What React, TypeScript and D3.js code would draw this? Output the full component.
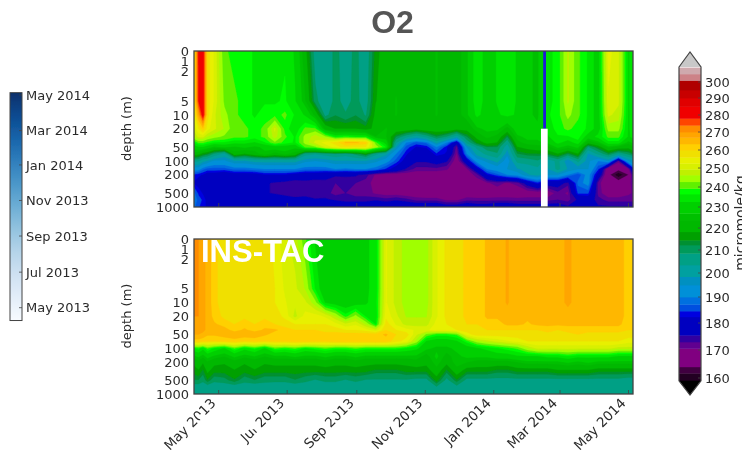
import React, { useEffect, useRef } from "react";
import * as d3 from "d3";

// O2 sections, glider on top and INS-TAC model below, drawn like a contourf

const depths = [0, 5, 10, 20, 30, 40, 50, 70, 100, 150, 200, 300, 500, 700, 1000];
const depthTicks = [0, 1, 2, 5, 10, 20, 50, 100, 200, 500, 1000];
const startDate = new Date(2013, 3, 9);
const endDate = new Date(2014, 4, 5);
// days after startDate for each column of the grids
const columnDays = [0, 4, 8, 12, 18, 27, 36, 45, 54, 63, 72, 81, 90, 99, 108, 117, 126, 135, 144, 153, 162, 171, 180, 189, 198, 207, 216, 225, 234, 243, 252, 261, 270, 279, 288, 297, 306, 315, 324, 333, 342, 351, 360, 369, 378, 387, 396];

// one row per depth, micromole/kg
const topValues = [
  [256, 279, 282, 258, 252, 240, 238, 238, 236, 236, 235, 236, 232, 220, 206, 205, 210, 206, 210, 205, 216, 222, 222, 222, 219, 222, 224, 222, 222, 226, 236, 230, 233, 236, 232, 228, 226, 236, 237, 247, 240, 236, 230, 254, 250, 232, 240],
  [256, 278, 282, 258, 252, 242, 240, 238, 236, 236, 236, 237, 233, 224, 210, 205, 210, 207, 210, 206, 218, 222, 224, 222, 220, 222, 224, 222, 222, 226, 236, 230, 233, 236, 232, 228, 226, 236, 237, 247, 240, 236, 230, 252, 250, 232, 240],
  [254, 268, 282, 258, 250, 244, 240, 238, 236, 238, 238, 240, 236, 232, 222, 207, 212, 209, 212, 208, 220, 222, 224, 222, 222, 222, 224, 222, 222, 226, 234, 230, 232, 234, 232, 228, 226, 236, 238, 244, 240, 236, 230, 250, 248, 232, 238],
  [250, 256, 262, 254, 250, 246, 240, 240, 238, 240, 250, 238, 234, 240, 240, 222, 218, 218, 218, 216, 220, 224, 222, 222, 220, 222, 222, 222, 220, 220, 226, 228, 228, 222, 230, 230, 228, 234, 238, 240, 238, 236, 230, 244, 244, 232, 238],
  [246, 250, 250, 246, 244, 242, 240, 240, 238, 240, 248, 240, 236, 244, 248, 244, 236, 238, 236, 236, 224, 224, 212, 205, 200, 205, 212, 208, 200, 212, 220, 225, 222, 212, 226, 228, 228, 232, 236, 236, 238, 230, 234, 240, 240, 232, 236],
  [236, 240, 240, 238, 236, 236, 234, 234, 232, 236, 242, 238, 236, 244, 250, 254, 258, 264, 264, 262, 240, 230, 204, 190, 186, 188, 200, 190, 178, 205, 215, 220, 218, 205, 222, 226, 226, 228, 234, 230, 235, 220, 225, 235, 235, 225, 232],
  [230, 232, 232, 230, 226, 228, 226, 228, 226, 228, 230, 230, 228, 240, 242, 250, 254, 258, 256, 256, 245, 236, 198, 186, 182, 183, 190, 183, 172, 195, 205, 212, 212, 200, 218, 220, 222, 222, 228, 225, 228, 208, 215, 225, 222, 220, 228],
  [222, 220, 216, 214, 208, 202, 222, 218, 222, 226, 222, 225, 222, 206, 204, 206, 208, 206, 210, 216, 205, 200, 190, 183, 178, 178, 184, 182, 170, 190, 200, 205, 208, 196, 212, 214, 214, 214, 218, 212, 218, 198, 205, 212, 205, 210, 218],
  [205, 204, 200, 198, 194, 194, 198, 198, 200, 200, 200, 200, 200, 196, 195, 196, 198, 198, 198, 198, 196, 192, 186, 180, 176, 176, 178, 176, 168, 180, 192, 196, 200, 192, 205, 206, 208, 200, 205, 195, 205, 196, 190, 195, 172, 195, 200],
  [192, 192, 188, 186, 186, 186, 188, 188, 189, 190, 190, 190, 190, 188, 188, 188, 190, 189, 190, 190, 188, 184, 180, 175, 172, 172, 172, 171, 168, 170, 180, 190, 192, 195, 198, 200, 202, 198, 205, 198, 195, 195, 185, 166, 165, 170, 192],
  [184, 183, 182, 180, 180, 178, 180, 180, 180, 182, 182, 182, 180, 179, 179, 178, 176, 176, 176, 174, 170, 168, 168, 168, 168, 168, 168, 168, 167, 168, 172, 182, 186, 190, 192, 198, 200, 195, 195, 190, 185, 192, 180, 165, 160, 164, 190],
  [182, 181, 180, 179, 178, 178, 178, 178, 177, 176, 175, 174, 173, 174, 173, 174, 173, 174, 173, 172, 169, 168, 168, 168, 168, 168, 168, 167, 167, 167, 168, 170, 172, 170, 172, 178, 184, 178, 178, 174, 188, 192, 172, 166, 166, 168, 180],
  [188, 184, 182, 180, 178, 178, 178, 178, 177, 176, 175, 174, 173, 174, 173, 174, 172, 173, 172, 172, 170, 169, 169, 168, 168, 167, 167, 167, 167, 168, 167, 167, 168, 168, 167, 168, 168, 168, 172, 170, 185, 185, 172, 168, 168, 170, 172],
  [190, 186, 184, 181, 180, 180, 179, 180, 179, 179, 179, 178, 177, 177, 176, 176, 175, 174, 174, 174, 175, 174, 175, 174, 172, 172, 172, 170, 170, 172, 172, 172, 172, 172, 172, 172, 172, 172, 173, 172, 176, 178, 174, 172, 172, 172, 172],
  [188, 185, 183, 182, 182, 181, 181, 181, 181, 180, 180, 180, 180, 180, 180, 180, 180, 180, 180, 180, 180, 180, 180, 180, 180, 180, 180, 178, 178, 180, 178, 178, 180, 180, 178, 178, 178, 178, 178, 176, 176, 178, 176, 176, 176, 176, 176],
];

const bottomValues = [
  [270, 270, 268, 266, 261, 258, 258, 257, 257, 258, 255, 250, 248, 240, 232, 228, 228, 228, 230, 232, 234, 253, 248, 245, 245, 245, 252, 257, 258, 261, 261, 264, 264, 267.5, 264, 265, 265, 265, 265, 268, 265, 265, 265, 265, 265, 262, 264],
  [270, 270, 268, 266, 261, 258, 258, 257, 257, 258, 256, 252, 250, 246, 236, 228, 228, 229, 230, 232, 234, 253, 248, 245, 245, 245, 252, 257, 258, 261, 261, 264, 264, 267.5, 264, 265, 265, 265, 265, 268, 265, 265, 265, 266, 265, 262, 264],
  [270, 270, 268, 266, 261, 258, 258, 257, 257, 258, 256, 253, 250, 250, 244, 232, 230, 229, 230, 232, 235, 253, 248, 245, 245, 245, 252, 257, 258, 261, 261, 264, 264, 267.5, 264, 265, 265, 265, 265, 268, 265, 265, 265, 267, 265, 262, 264],
  [270, 270, 268, 266, 262, 259, 258, 259, 258, 259, 258, 255, 248, 254, 254, 252, 246, 238, 244, 236, 234, 255, 250, 246, 246, 246, 252, 257, 258, 261, 261, 264, 264, 265, 264, 264, 265, 265, 265, 265, 265, 265, 265, 267, 265, 262, 263],
  [268, 268, 268, 266, 264, 262, 260, 262, 260, 262, 260, 258, 256, 256, 256, 256, 254, 250, 252, 246, 236, 258, 252, 248, 248, 248, 254, 256, 258, 260, 260, 262, 262, 264, 264, 263, 264, 264, 264, 264, 264, 264, 264, 264, 264, 262, 262],
  [268, 268, 268, 266, 266, 265, 262, 264, 262, 264, 264, 262, 260, 260, 260, 258, 258, 256, 256, 254, 250, 260, 256, 254, 252, 252, 254, 254, 256, 258, 258, 260, 260, 260, 260, 260, 260, 262, 260, 262, 262, 262, 262, 262, 262, 260, 260],
  [267, 267, 266, 264, 264, 265, 266, 266, 266, 264, 262, 262, 262, 262, 262, 262, 262, 262, 262, 262, 262, 264, 260, 258, 250, 242, 238, 238, 240, 254, 258, 258, 258, 258, 258, 258, 258, 258, 258, 258, 260, 258, 258, 258, 258, 258, 258],
  [262, 262, 261, 260, 260, 261, 262, 260, 261, 260, 261, 261, 262, 262, 261, 261, 262, 262, 262, 262, 262, 262, 258, 254, 245, 232, 230, 230, 232, 238, 245, 248, 250, 252, 254, 256, 256, 256, 256, 256, 256, 256, 256, 256, 256, 254, 254],
  [236, 238, 234, 240, 236, 232, 240, 234, 238, 232, 240, 238, 240, 236, 238, 240, 238, 238, 240, 238, 238, 238, 238, 236, 234, 228, 226, 226, 228, 230, 232, 234, 236, 238, 240, 246, 250, 250, 250, 250, 250, 250, 250, 250, 248, 248, 248],
  [226, 228, 225, 229, 226, 224, 228, 225, 227, 224, 226, 226, 228, 226, 226, 228, 226, 226, 228, 226, 226, 226, 226, 226, 226, 222, 228, 222, 226, 228, 228, 228, 230, 230, 232, 232, 232, 234, 234, 236, 234, 234, 234, 234, 232, 232, 232],
  [220, 222, 219, 223, 220, 219, 222, 219, 221, 219, 220, 220, 220, 220, 220, 222, 220, 220, 222, 220, 220, 220, 220, 220, 222, 220, 226, 220, 226, 224, 222, 222, 222, 222, 224, 226, 226, 226, 226, 228, 226, 228, 226, 226, 226, 226, 226],
  [216, 218, 214, 220, 216, 216, 218, 216, 218, 216, 216, 216, 216, 216, 216, 216, 216, 216, 216, 216, 214, 214, 214, 216, 216, 216, 222, 214, 222, 216, 216, 216, 214, 214, 216, 216, 216, 216, 218, 218, 218, 218, 216, 216, 216, 216, 216],
  [212, 212, 210, 214, 210, 211, 214, 210, 212, 210, 210, 210, 212, 210, 208, 210, 210, 208, 210, 208, 208, 208, 208, 208, 207, 207, 216, 207, 214, 207, 207, 207, 207, 207, 207, 207, 207, 207, 207, 207, 207, 207, 207, 207, 207, 206, 206],
  [206, 206, 205, 206, 205, 205, 206, 206, 205, 206, 205, 205, 205, 205, 205, 204, 204, 204, 204, 204, 205, 205, 205, 205, 205, 205, 208, 205, 207, 205, 205, 205, 205, 205, 205, 205, 205, 205, 205, 205, 205, 205, 205, 205, 205, 205, 205],
  [205, 205, 205, 205, 205, 205, 205, 205, 205, 205, 205, 205, 205, 205, 205, 204, 204, 204, 204, 204, 204, 204, 204, 204, 204, 204, 204, 204, 204, 204, 204, 204, 204, 204, 204, 204, 204, 204, 204, 204, 204, 204, 204, 204, 204, 204, 204],
];

// contour levels and the colour of the band starting at each level
const levels = [159, 161.7, 164, 170.6, 173, 175.5, 182.4, 184.6, 187.2, 190, 195, 198.5, 203.5, 208.6, 212.3, 214.5, 218.3, 223.8, 227, 232.7, 236.5, 239.3, 242.8, 246.3, 249.3, 252.6, 256, 260, 263.4, 267, 270, 274, 278, 285, 290, 295, 301, 305];
const levelColors = ["#200020", "#400040", "#800080", "#600090", "#3000a0", "#0000c0", "#0000e0", "#0050e0", "#0070e0", "#0090d8", "#0090c0", "#00a0a0", "#00a085", "#009a5a", "#009030", "#00a000", "#00b800", "#00c000", "#00d000", "#00e600", "#00ff00", "#60f000", "#a0ff00", "#bff000", "#d8f000", "#e8f000", "#f0e000", "#ffd000", "#ffb700", "#ffa500", "#ff8c00", "#ff4500", "#f00000", "#e00000", "#c80000", "#b00000", "#cd8287", "#cfa9ad"];

const cbarValues = [300, 290, 280, 270, 260, 250, 240, 230, 220, 210, 200, 190, 180, 170, 160];

// glider gap in mid February: blue sliver down to 20 m, empty below
const gapStart = new Date(2014, 1, 12);
const gapEnd = new Date(2014, 1, 18);
const sliverStart = new Date(2014, 1, 14);
const sliverEnd = new Date(2014, 1, 16, 12);
const gapDepth = 20;

const legendTop = new Date(2014, 4, 1);
const legendZero = new Date(2013, 4, 1);

// white specks that the source image left on the date labels: tick index, offset from the tick
const labelNicks = [
  { tick: 0, dx: -16, dy: 23 },
  { tick: 1, dx: -35, dy: 32 },
  { tick: 2, dx: -24, dy: 22 },
];

const font = "'DejaVu Sans', sans-serif";
const textColor = "#2b2b2b";
const frameColor = "#444";

const panelLeft = 194;
const panelRight = 633;

function App() {
  const ref = useRef<SVGSVGElement>(null);

  useEffect(() => {
    const svg = d3.select(ref.current);
    svg.selectAll("*").remove();
    const root = svg.append("g").attr("filter", "url(#soft)");

    const defs = svg.append("defs");
    defs.append("filter").attr("id", "soft")
      .attr("filterUnits", "userSpaceOnUse").attr("x", 0).attr("y", 0).attr("width", 742).attr("height", 450)
      .append("feGaussianBlur").attr("stdDeviation", 0.45);

    const x = d3.scaleTime().domain([startDate, endDate]).range([panelLeft, panelRight]);
    const columnDates = columnDays.map(d => d3.timeDay.offset(startDate, d));
    const color = (i: number) => levelColors[i];

    const panel = (values: number[][], top: number, bottom: number, name: string) => {
      const h = bottom - top;
      const bend = top + (h * 50) / 156;
      const yLin = d3.scaleLinear().domain([0, 5]).range([top, bend]);
      const yLog = d3.scaleLog().domain([5, 1000]).range([bend, bottom]);
      const y = (d: number) => (d <= 5 ? yLin(d) : yLog(d));

      const g = root.append("g");
      defs.append("clipPath").attr("id", "clip" + name).append("rect")
        .attr("x", panelLeft).attr("y", top).attr("width", panelRight - panelLeft).attr("height", h);
      const marks = g.append("g").attr("clip-path", `url(#clip${name})`);
      marks.append("rect").attr("x", panelLeft).attr("y", top).attr("width", panelRight - panelLeft).attr("height", h).attr("fill", "#000");

      // grid index -> pixel, cell centres sit on .5 in d3.contours
      const n = columnDates.length;
      const m = depths.length;
      const ix = d3.scaleLinear()
        .domain([0, ...columnDates.map((_, i) => i + 0.5), n])
        .range([x(columnDates[0]), ...columnDates.map(d => x(d)), x(columnDates[n - 1])]);
      const iy = d3.scaleLinear()
        .domain([0, ...depths.map((_, i) => i + 0.5), m])
        .range([y(depths[0]), ...depths.map(d => y(d)), y(depths[m - 1])]);
      const path = d3.geoPath(d3.geoTransform({
        point(px: number, py: number) { (this as any).stream.point(ix(px), iy(py)); },
      }));

      const contours = d3.contours().size([n, m]).thresholds(levels)(values.flat());
      marks.selectAll("path.band").data(contours).join("path")
        .attr("class", "band")
        .attr("d", d => path(d as any))
        .attr("fill", (_, i) => color(i))
        .attr("stroke", (_, i) => color(i))
        .attr("stroke-width", 0.3);

      return { g, marks, y, top, bottom };
    };

    const top = panel(topValues, 51, 207, "a");
    const bottom = panel(bottomValues, 239, 394, "b");

    // gap in the glider record
    top.marks.append("rect")
      .attr("x", x(sliverStart)).attr("width", x(sliverEnd) - x(sliverStart))
      .attr("y", top.y(0)).attr("height", top.y(gapDepth) - top.y(0))
      .attr("fill", "#1c1cd8");
    top.marks.append("rect")
      .attr("x", x(gapStart)).attr("width", x(gapEnd) - x(gapStart))
      .attr("y", top.y(gapDepth)).attr("height", top.y(1000) - top.y(gapDepth))
      .attr("fill", "#fff");

    // axes and frames
    const months = d3.timeMonth.every(2);
    [top, bottom].forEach((p, k) => {
      const frame = p.g.append("g");
      frame.append("rect").attr("x", panelLeft).attr("y", p.top).attr("width", panelRight - panelLeft).attr("height", p.bottom - p.top)
        .attr("fill", "none").attr("stroke", frameColor).attr("stroke-width", 1.3);

      const ticks = x.ticks(months as any).filter(d => x(d) <= panelRight);
      frame.selectAll("line.tb").data(ticks).join("line").attr("class", "tb")
        .attr("x1", d => x(d)).attr("x2", d => x(d)).attr("y1", p.bottom).attr("y2", p.bottom - 4)
        .attr("stroke", frameColor).attr("stroke-width", 0.8);

      frame.selectAll("text.dy").data(depthTicks).join("text").attr("class", "dy")
        .attr("x", panelLeft - 5).attr("y", d => p.y(d)).attr("dy", "0.36em")
        .attr("text-anchor", "end").attr("font-family", font).attr("font-size", 13).attr("fill", textColor)
        .text(d => d);

      root.append("text")
        .attr("transform", `translate(131,${p.top + (p.bottom - p.top) / 2 - 0.5}) rotate(-90)`)
        .attr("text-anchor", "middle").attr("font-family", font).attr("font-size", 13).attr("fill", textColor)
        .text("depth (m)");

      if (k === 1) {
        frame.selectAll("text.dx").data(ticks).join("text").attr("class", "dx")
          .attr("transform", d => `translate(${x(d) - 2},${p.bottom + 10}) rotate(-45)`)
          .attr("text-anchor", "end").attr("font-family", font).attr("font-size", 13.5).attr("fill", textColor)
          .text(d => d3.timeFormat("%b %Y")(d));
        frame.selectAll("ellipse").data(labelNicks).join("ellipse")
          .attr("cx", d => x(ticks[d.tick]) + d.dx).attr("cy", d => p.bottom + d.dy)
          .attr("rx", 3.5).attr("ry", 3.5).attr("fill", "#fff");
      }
    });

    // overlaid label from the source image
    root.append("text").attr("x", 201).attr("y", 262)
      .attr("font-family", "'Liberation Sans', sans-serif").attr("font-weight", "bold").attr("font-size", 31).attr("fill", "#fff")
      .text("INS-TAC");

    root.append("text").attr("x", 392.5).attr("y", 33).attr("text-anchor", "middle")
      .attr("font-family", "'Liberation Sans', sans-serif").attr("font-weight", "bold").attr("font-size", 32).attr("fill", "#555")
      .text("O2");

    // date legend on the left
    const legendY = d3.scaleTime().domain([legendZero, legendTop]).range([307.7, 95]);
    const grad = defs.append("linearGradient").attr("id", "blues").attr("x1", 0).attr("x2", 0).attr("y1", 1).attr("y2", 0);
    d3.range(0, 1.01, 0.1).forEach(t => grad.append("stop").attr("offset", t).attr("stop-color", d3.interpolateBlues(t)));
    const legend = root.append("g");
    legend.append("rect").attr("x", 10).attr("width", 12).attr("y", legendY(endDate)).attr("height", legendY(startDate) - legendY(endDate))
      .attr("fill", "url(#blues)").attr("stroke", frameColor).attr("stroke-width", 1);
    const legendTicks = legendY.ticks(months as any);
    legend.selectAll("line").data(legendTicks).join("line")
      .attr("x1", 19).attr("x2", 22).attr("y1", d => legendY(d)).attr("y2", d => legendY(d))
      .attr("stroke", frameColor).attr("stroke-width", 0.8);
    legend.selectAll("text").data(legendTicks).join("text")
      .attr("x", 26).attr("y", d => legendY(d)).attr("dy", "0.36em")
      .attr("font-family", font).attr("font-size", 13).attr("fill", textColor)
      .text(d => d3.timeFormat("%b %Y")(d));

    // value colour bar on the right, ticks are not evenly spaced in the original
    const cbarY = d3.scaleLinear().domain(cbarValues)
      .range([82, 98, 115, 132, 150, 168, 187, 207, 228, 250, 273, 297, 323, 350, 378]);
    const cbarLeft = 679;
    const cbarRight = 701;
    const cbar = root.append("g");
    const cbarTop = 67;
    const cbarBottom = cbarY(159);
    const cbarEdges = [...levels.slice(1), 309];
    cbar.selectAll("rect").data(levels).join("rect")
      .attr("x", cbarLeft).attr("width", cbarRight - cbarLeft)
      .attr("y", (_, i) => cbarY(cbarEdges[i])).attr("height", (d, i) => cbarY(d) - cbarY(cbarEdges[i]) + 0.4)
      .attr("fill", (_, i) => color(i));
    const line = d3.line();
    const mid = (cbarLeft + cbarRight) / 2;
    cbar.append("path").attr("d", line([[cbarLeft, cbarTop], [mid, 52], [cbarRight, cbarTop]]) + "Z")
      .attr("fill", "#c8c8c8");
    cbar.append("path").attr("d", line([[cbarLeft, cbarBottom], [mid, 395], [cbarRight, cbarBottom]]) + "Z")
      .attr("fill", "#000");
    cbar.append("path").attr("d", line([[cbarLeft, cbarTop], [mid, 52], [cbarRight, cbarTop], [cbarRight, cbarBottom], [mid, 395], [cbarLeft, cbarBottom]]) + "Z")
      .attr("fill", "none").attr("stroke", frameColor).attr("stroke-width", 1.2);
    cbar.selectAll("line").data(cbarValues).join("line")
      .attr("x1", cbarRight - 3).attr("x2", cbarRight).attr("y1", d => cbarY(d)).attr("y2", d => cbarY(d))
      .attr("stroke", frameColor).attr("stroke-width", 0.8);
    cbar.selectAll("text").data(cbarValues).join("text")
      .attr("x", 705).attr("y", d => cbarY(d)).attr("dy", "0.36em")
      .attr("font-family", font).attr("font-size", 13).attr("fill", textColor)
      .text(d => d);
    root.append("text")
      .attr("transform", "translate(745,223) rotate(-90)")
      .attr("text-anchor", "middle").attr("font-family", font).attr("font-size", 14).attr("fill", textColor)
      .text("micromole/kg");
  }, []);

  return <svg ref={ref} width={742} height={450} style={{ position: "absolute", left: 0, top: 0, background: "#fff" }} />;
}

export default App;
